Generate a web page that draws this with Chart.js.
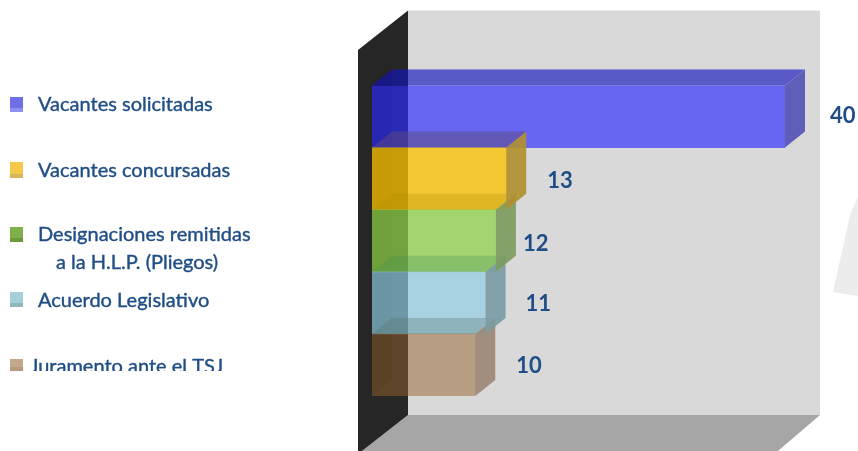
<!DOCTYPE html>
<html>
<head>
<meta charset="utf-8">
<style>html,body{margin:0;padding:0;background:#fff}#w{position:relative;width:858px;height:451px}</style>
<script src="https://cdn.jsdelivr.net/npm/chart.js@4/dist/chart.umd.min.js"></script>
</head>
<body>
<div id="w"><canvas id="c" width="858" height="451"></canvas></div>
<script>
const categories = ["Vacantes solicitadas", "Vacantes concursadas", ["Designaciones remitidas", "a la H.L.P. (Pliegos)"], "Acuerdo Legislativo", "Juramento ante el TSJ"];
const values = [40, 13, 12, 11, 10];
const frontColors = ["rgba(45,45,255,.67)", "rgba(253,195,0,.76)", "rgba(143,210,73,.73)", "rgba(145,207,228,.68)", "rgba(152,100,44,.5)"];
const topColors = ["rgba(20,20,190,.65)", "rgba(94,74,126,.5)", "rgba(175,147,0,.3)", "rgba(73,147,86,.3)", "rgba(87,110,103,.3)"];
const sideColors = ["rgba(88,88,184,.95)", "rgba(176,144,48,.93)", "rgba(124,156,96,.93)", "rgba(124,156,164,.93)", "rgba(156,136,118,.93)"];
const markerColors = ["#6f6fe8", "#f4c84a", "#7fb04a", "#a5cfd9", "#c4a88c"];
const markerShades = ["#8f8ff0", "#d8b45a", "#6a9a3c", "#90b6c0", "#b39a80"];
const legendTop = [97, 162, 227, 292, 359];
const legendBottom = [112, 178, 242, 307, 371];
const legendTextX = [38, 38, 38, 38, 30];
const legendTextY = [105, 170.5, 235, 300.5, 367];
const labelGap = [45, 41, 27, 40, 41];
const labelY = [116, 181, 244, 304, 366];

const DX = 20, DY = -16;

function poly(ctx, pts, fill) {
  ctx.beginPath();
  pts.forEach((p, i) => i ? ctx.lineTo(p[0], p[1]) : ctx.moveTo(p[0], p[1]));
  ctx.closePath();
  ctx.fillStyle = fill;
  ctx.fill();
}

function legendText(ctx, s, x, y) {
  ctx.fillText(s, x, y);
  ctx.strokeText(s, x, y);
}

const box3d = {
  id: 'box3d',
  beforeDatasetsDraw(chart) {
    const { ctx, chartArea: a } = chart;
    const H = chart.height;
    ctx.save();
    // faint shape at the right edge
    poly(ctx, [[858, 197], [850, 215], [833, 292], [858, 296]], '#ececec');
    // back wall
    const wx = a.left + 36, wr = a.right + 35, wt = 10.5, wb = 415;
    ctx.fillStyle = '#d9d9d9';
    ctx.fillRect(wx, wt, wr - wx, wb - wt);
    // floor
    poly(ctx, [[wx, wb], [wr, wb], [778, H], [362, H]], '#a6a6a6');
    // left wall
    poly(ctx, [[358, 50], [wx, wt], [wx, wb], [362, H], [358, H]], '#262626');
    // left faces of the bars
    const meta = chart.getDatasetMeta(0);
    meta.data.forEach(b => {
      const t = b.y - b.height / 2, u = b.y + b.height / 2;
      poly(ctx, [[b.base, t], [b.base + DX, t + DY], [b.base + DX, u + DY], [b.base, u]], 'rgba(0,0,0,.2)');
    });
    ctx.restore();
  },
  afterDatasetsDraw(chart) {
    const { ctx } = chart;
    const meta = chart.getDatasetMeta(0);
    ctx.save();
    meta.data.forEach((b, i) => {
      const t = b.y - b.height / 2;
      poly(ctx, [[b.base, t], [b.base + DX, t + DY], [b.x + DX, t + DY], [b.x, t]], topColors[i]);
    });
    [...meta.data].reverse().forEach((b, r) => {
      const i = meta.data.length - 1 - r;
      const t = b.y - b.height / 2, u = b.y + b.height / 2;
      poly(ctx, [[b.x, t], [b.x + DX, t + DY], [b.x + DX, u + DY], [b.x, u]], sideColors[i]);
    });
    // value labels
    ctx.font = 'bold 22px Lato';
    ctx.fillStyle = '#1f4e86';
    ctx.textAlign = 'left';
    ctx.textBaseline = 'middle';
    meta.data.forEach((b, i) => ctx.fillText(String(values[i]), b.x + labelGap[i], labelY[i]));
    // legend
    ctx.font = '20px Lato';
    ctx.strokeStyle = '#1f4e86';
    ctx.lineWidth = 0.4;
    categories.forEach((cat, i) => {
      const h = legendBottom[i] - legendTop[i];
      ctx.fillStyle = markerColors[i];
      ctx.fillRect(10, legendTop[i], 13, h);
      ctx.fillStyle = markerShades[i];
      ctx.fillRect(10, legendBottom[i] - 4, 13, 4);
      ctx.fillStyle = '#1f4e86';
      ctx.save();
      if (i === categories.length - 1) {
        ctx.beginPath();
        ctx.rect(0, 340, 340, 31);
        ctx.clip();
      }
      const lines = Array.isArray(cat) ? cat : [cat];
      legendText(ctx, lines[0], legendTextX[i], legendTextY[i]);
      if (lines[1]) legendText(ctx, lines[1], legendTextX[i] + 18, legendTextY[i] + 28);
      ctx.restore();
    });
    ctx.restore();
  }
};

new Chart(document.getElementById('c'), {
  type: 'bar',
  data: {
    labels: categories,
    datasets: [{ data: values, backgroundColor: frontColors, borderWidth: 0, barPercentage: 1, categoryPercentage: 1 }]
  },
  options: {
    indexAxis: 'y',
    responsive: false,
    animation: false,
    layout: { padding: { left: 372, right: 73, top: 85.5, bottom: 55 } },
    plugins: { legend: { display: false }, tooltip: { enabled: false } },
    scales: {
      x: { display: false, min: 0, max: 40 },
      y: { display: false }
    }
  },
  plugins: [box3d]
});
</script>
</body>
</html>
